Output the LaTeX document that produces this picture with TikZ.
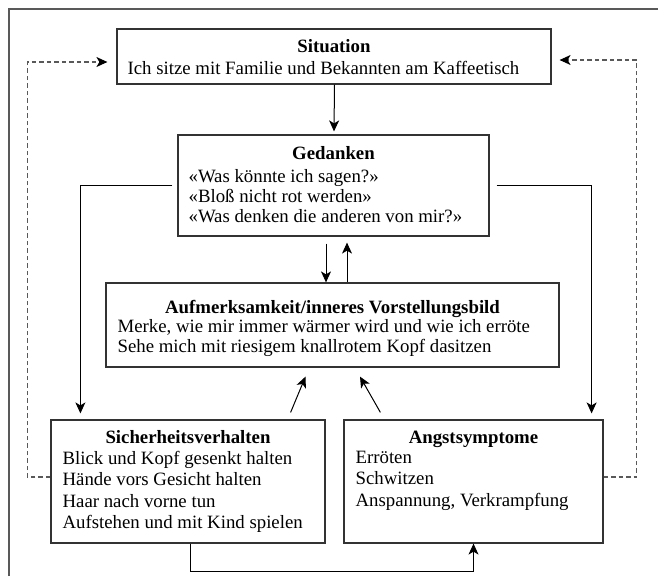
\documentclass[tikz,border=0pt]{standalone}
\usepackage{fontspec}
\setmainfont{Liberation Serif}
\usetikzlibrary{arrows.meta}
\tikzset{
  box/.style={draw=black!80, line width=1.2pt, inner sep=0pt, fill=white},
  txt/.style={inner sep=0pt, font=\fontsize{18.8}{21}\selectfont},
  ttl/.style={inner sep=0pt, font=\fontsize{18.8}{21}\selectfont\bfseries},
  arr/.style={draw=black, line width=1pt, -{Stealth[length=11pt,width=10pt,inset=3pt]}},
  dsh/.style={draw=black!65, line width=1.1pt, dash pattern=on 4.5pt off 3pt, -{Stealth[length=11pt,width=10pt,inset=3pt,black]}},
}
\begin{document}
\begin{tikzpicture}[x=1pt,y=-1pt]
\useasboundingbox (0,0) rectangle (658,576);
% frame
\coordinate (fbl) at (9,576);
\coordinate (ftl) at (9,9);
\coordinate (ftr) at (658,9);
\draw[black!65, line width=1.3pt] (fbl) -- (ftl) -- (ftr);

% boxes
\node[box, minimum width=434pt, minimum height=55pt] (sit) at (334,56.5) {};
\node[ttl, anchor=base] (sitT) at ([yshift=-24pt]sit.north) {Situation};
\node[txt, anchor=base west] (sitB) at ([xshift=11pt,yshift=-46pt]sit.north west) {Ich sitze mit Familie und Bekannten am Kaffeetisch};

\node[box, minimum width=311pt, minimum height=101pt] (ged) at (333.5,185.5) {};
\node[ttl, anchor=base] (gedT) at ([yshift=-25pt]ged.north) {Gedanken};
\node[txt, anchor=base west] (gedB) at ([xshift=11pt,yshift=-48pt]ged.north west)
  {\vtop{\baselineskip=20pt\hbox{«Was könnte ich sagen?»}\hbox{«Bloß nicht rot werden»}\hbox{«Was denken die anderen von mir?»}}};

\node[box, minimum width=453pt, minimum height=84pt] (auf) at (332.5,325) {};
\node[ttl, anchor=base] (aufT) at ([yshift=-31pt]auf.north) {Aufmerksamkeit/inneres Vorstellungsbild};
\node[txt, anchor=base west] (aufB) at ([xshift=12pt,yshift=-50pt]auf.north west)
  {\vtop{\baselineskip=20pt\hbox{Merke, wie mir immer wärmer wird und wie ich erröte}\hbox{Sehe mich mit riesigem knallrotem Kopf dasitzen}}};

\node[box, minimum width=274pt, minimum height=123pt] (sich) at (188,481.5) {};
\node[ttl, anchor=base] (sichT) at ([yshift=-24pt]sich.north) {Sicherheitsverhalten};
\node[txt, anchor=base west] (sichB) at ([xshift=12pt,yshift=-45pt]sich.north west)
  {\vtop{\baselineskip=21.3pt\hbox{Blick und Kopf gesenkt halten}\hbox{Hände vors Gesicht halten}\hbox{Haar nach vorne tun}\hbox{Aufstehen und mit Kind spielen}}};

\node[box, minimum width=259pt, minimum height=123pt] (ang) at (473.5,481.5) {};
\node[ttl, anchor=base] (angT) at ([yshift=-24pt]ang.north) {Angstsymptome};
\node[txt, anchor=base west] (angB) at ([xshift=12pt,yshift=-44pt]ang.north west)
  {\vtop{\baselineskip=21.5pt\hbox{Erröten}\hbox{Schwitzen}\hbox{Anspannung, Verkrampfung}}};

% connectors
\draw[arr] ([xshift=0.5pt]sit.south) -- ([xshift=0.5pt,yshift=3pt]ged.north);
\draw[arr] ([xshift=-7.5pt,yshift=-7pt]ged.south) -- ([xshift=-7.5pt]ged.south |- auf.north);
\draw[arr] ([xshift=13.5pt]ged.south |- auf.north) -- ([xshift=13.5pt,yshift=-6pt]ged.south);
\draw[arr] ([xshift=-5pt]ged.west) -| ([xshift=30pt,yshift=6pt]sich.north west);
\draw[arr] ([xshift=7pt]ged.east) -| ([xshift=-12pt,yshift=6pt]ang.north east);
\draw[arr] ([xshift=-35pt,yshift=7pt]sich.north east) -- ([xshift=-27pt,yshift=-9pt]auf.south);
\draw[arr] ([xshift=37pt,yshift=7pt]ang.north west) -- ([xshift=27.5pt,yshift=-9pt]auf.south);
\draw[arr] ([xshift=2pt]sich.south) -- ++(0,28) -| (ang.south);
\draw[dsh] ([yshift=4.5pt]sich.west) -- ++(-23,0) |- ([xshift=-9pt,yshift=-5.5pt]sit.west);
\draw[dsh] ([yshift=4.5pt]ang.east) -- ++(33,0) |- ([xshift=8pt,yshift=-3.5pt]sit.east);
\end{tikzpicture}
\end{document}
